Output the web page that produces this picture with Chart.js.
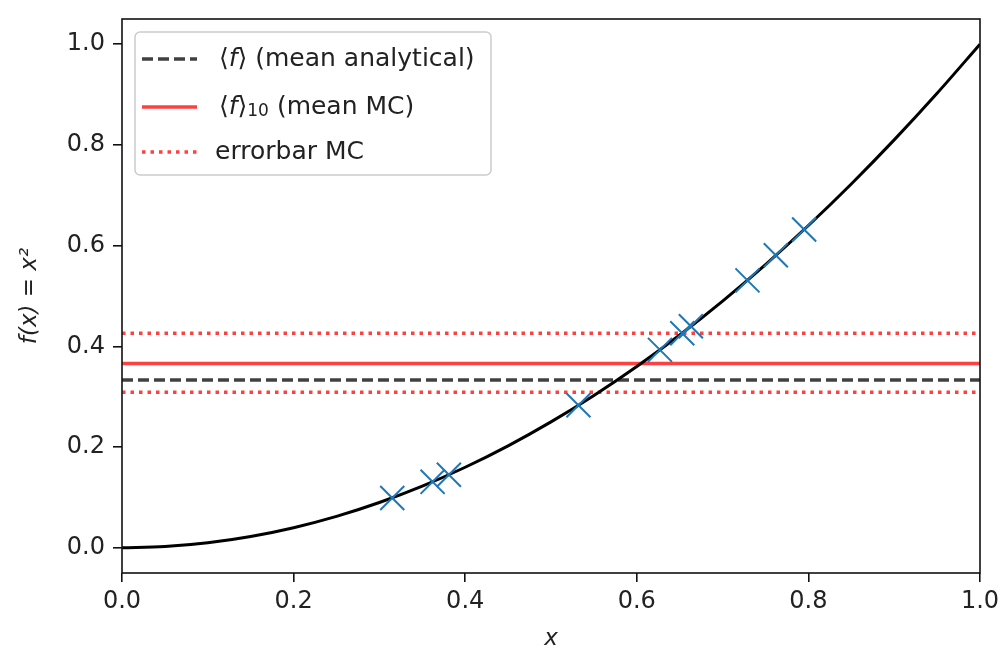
<!DOCTYPE html>
<html>
<head>
<meta charset="utf-8">
<script src="https://cdn.jsdelivr.net/npm/chart.js@4"></script>
<style>
  html, body { margin: 0; padding: 0; background: #fff; }
  #mcChart { display: block; }
</style>
</head>
<body>
<canvas id="mcChart" width="1007" height="657"></canvas>
<script>
// curve f(x) = x^2
const curveX = [0, 0.05, 0.1, 0.15, 0.2, 0.25, 0.3, 0.35, 0.4, 0.45, 0.5, 0.55, 0.6, 0.65, 0.7, 0.75, 0.8, 0.85, 0.9, 0.95, 1.0];
const curveY = [0, 0.0025, 0.01, 0.0225, 0.04, 0.0625, 0.09, 0.1225, 0.16, 0.2025, 0.25, 0.3025, 0.36, 0.4225, 0.49, 0.5625, 0.64, 0.7225, 0.81, 0.9025, 1.0];

// MC samples (blue crosses)
const sampleX = [0.315, 0.362, 0.381, 0.532, 0.627, 0.653, 0.663, 0.729, 0.762, 0.795];
const sampleY = [0.099, 0.131, 0.145, 0.283, 0.393, 0.426, 0.440, 0.531, 0.581, 0.632];

// horizontal levels
const meanAnalytical = 0.3333;
const meanMC = 0.366;
const errUpper = 0.426;
const errLower = 0.309;

const xTicks = [0.0, 0.2, 0.4, 0.6, 0.8, 1.0];
const yTicks = [0.0, 0.2, 0.4, 0.6, 0.8, 1.0];

const RED = 'rgba(255,0,0,0.75)';
const DARK = 'rgba(0,0,0,0.75)';
const FONT = '"DejaVu Sans", sans-serif';

function hline(v) {
    return [{x: 0, y: v}, {x: 1, y: v}];
}

const frame = {
    id: 'frame',
    afterDraw(chart) {
        const ctx = chart.ctx, ca = chart.chartArea;
        ctx.save();
        ctx.strokeStyle = '#111';
        ctx.lineWidth = 1.6;
        ctx.strokeRect(ca.left, ca.top, ca.right - ca.left, ca.bottom - ca.top);
        ctx.restore();
    }
};

function drawSegs(ctx, segs, x, y) {
    segs.forEach(s => {
        ctx.font = s.font;
        ctx.fillText(s.t, x, y + (s.dy || 0));
        x += ctx.measureText(s.t).width;
    });
}

const legendBox = {
    id: 'legendBox',
    afterDraw(chart) {
        const ctx = chart.ctx, ca = chart.chartArea;
        const L = ca.left + 13, T = ca.top + 13, W = 356, H = 143;
        ctx.save();
        ctx.fillStyle = 'rgba(255,255,255,0.8)';
        ctx.strokeStyle = '#cccccc';
        ctx.lineWidth = 1.5;
        ctx.beginPath();
        ctx.roundRect(L, T, W, H, 5);
        ctx.fill();
        ctx.stroke();

        const rows = [T + 27, T + 75, T + 120];
        const base = '25px ' + FONT, ital = 'italic 25px ' + FONT, small = '17px ' + FONT;
        const styles = [
            {color: DARK, dash: [11, 5]},
            {color: RED, dash: []},
            {color: RED, dash: [3.5, 5]}
        ];
        styles.forEach((s, i) => {
            ctx.strokeStyle = s.color;
            ctx.lineWidth = 3.5;
            ctx.setLineDash(s.dash);
            ctx.beginPath();
            ctx.moveTo(L + 7, rows[i]);
            ctx.lineTo(L + 62, rows[i]);
            ctx.stroke();
        });
        ctx.setLineDash([]);
        ctx.fillStyle = '#222';
        ctx.textBaseline = 'middle';
        drawSegs(ctx, [{t: '\u27E8', font: base}, {t: 'f', font: ital}, {t: '\u27E9 (mean analytical)', font: base}], L + 84, rows[0]);
        drawSegs(ctx, [{t: '\u27E8', font: base}, {t: 'f', font: ital}, {t: '\u27E9', font: base}, {t: '10', font: small, dy: 5}, {t: ' (mean MC)', font: base}], L + 84, rows[1]);
        drawSegs(ctx, [{t: 'errorbar MC', font: base}], L + 80, rows[2]);
        ctx.restore();
    }
};

new Chart(document.getElementById('mcChart'), {
    type: 'scatter',
    data: {
        datasets: [
            {
                label: 'samples',
                data: sampleX.map((x, i) => ({x: x, y: sampleY[i]})),
                pointStyle: 'crossRot',
                pointRadius: 17,
                pointHoverRadius: 17,
                pointBorderWidth: 2,
                borderColor: '#1f77b4',
                backgroundColor: '#1f77b4'
            },
            {
                label: 'f(x)',
                type: 'line',
                data: curveX.map((x, i) => ({x: x, y: curveY[i]})),
                borderColor: '#000',
                borderWidth: 3,
                pointRadius: 0,
                cubicInterpolationMode: 'monotone'
            },
            {
                label: 'mean analytical',
                type: 'line',
                data: hline(meanAnalytical),
                borderColor: DARK,
                borderWidth: 3.5,
                borderDash: [11, 5],
                pointRadius: 0
            },
            {
                label: 'mean MC',
                type: 'line',
                data: hline(meanMC),
                borderColor: RED,
                borderWidth: 3.5,
                pointRadius: 0
            },
            {
                label: 'errorbar MC',
                type: 'line',
                data: hline(errUpper),
                borderColor: RED,
                borderWidth: 3.5,
                borderDash: [3.5, 5],
                pointRadius: 0
            },
            {
                label: 'errorbar MC low',
                type: 'line',
                data: hline(errLower),
                borderColor: RED,
                borderWidth: 3.5,
                borderDash: [3.5, 5],
                pointRadius: 0
            }
        ]
    },
    options: {
        responsive: false,
        animation: false,
        devicePixelRatio: 1,
        layout: {padding: {left: 0, top: 12, right: 27, bottom: 0}},
        plugins: {legend: {display: false}, tooltip: {enabled: false}},
        scales: {
            x: {
                type: 'linear',
                min: 0, max: 1,
                afterBuildTicks: s => { s.ticks = xTicks.map(v => ({value: v})); },
                afterFit: s => { s.height = 84; s.paddingLeft = 0; s.paddingRight = 0; },
                grid: {display: true, drawOnChartArea: false, tickLength: 9, color: '#111', lineWidth: 1.6},
                border: {display: false},
                ticks: {font: {family: FONT, size: 24}, color: '#222', padding: 5, maxRotation: 0,
                        callback: v => v.toFixed(1)},
                title: {display: true, text: 'x', font: {family: FONT, size: 23, style: 'italic'}, color: '#222', padding: {top: 2}}
            },
            y: {
                min: -0.05, max: 1.05,
                afterBuildTicks: s => { s.ticks = yTicks.map(v => ({value: v})); },
                afterFit: s => { s.width = 122; s.paddingTop = 0; s.paddingBottom = 0; },
                grid: {display: true, drawOnChartArea: false, tickLength: 9, color: '#111', lineWidth: 1.6},
                border: {display: false},
                ticks: {font: {family: FONT, size: 24}, color: '#222', padding: 8,
                        callback: v => v.toFixed(1)},
                title: {display: true, text: 'f(x) = x\u00B2', font: {family: FONT, size: 23, style: 'italic'}, color: '#222', padding: {top: 16, bottom: 4}}
            }
        }
    },
    plugins: [frame, legendBox]
});
</script>
</body>
</html>
